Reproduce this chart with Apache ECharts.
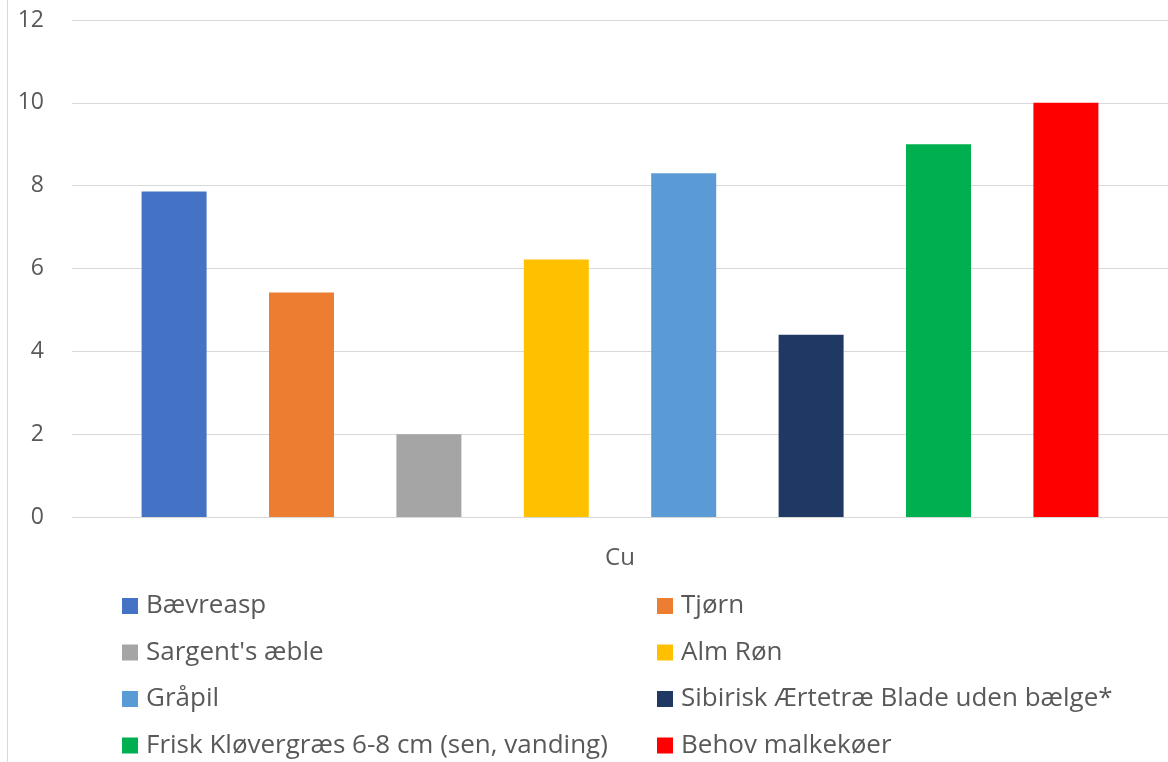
<!DOCTYPE html>
<html>
<head>
<meta charset="utf-8">
<script src="https://cdn.jsdelivr.net/npm/echarts@6/dist/echarts.min.js"></script>
<style>html,body{margin:0;padding:0;background:#fff;}#c{width:1168px;height:762px;}</style>
</head>
<body>
<div id="c"></div>
<script>
const categories = ['Cu'];
const seriesNames = ['Bævreasp', 'Tjørn', "Sargent's æble", 'Alm Røn', 'Gråpil', 'Sibirisk Ærtetræ Blade uden bælge*', 'Frisk Kløvergræs 6-8 cm (sen, vanding)', 'Behov malkekøer'];
const seriesValues = [7.86, 5.42, 2.0, 6.22, 8.3, 4.4, 9.0, 10.0];
const seriesColors = ['#4472C4', '#ED7D31', '#A5A5A5', '#FFC000', '#5B9BD5', '#203864', '#00B050', '#FF0000'];
const yTicks = { min: 0, max: 12, interval: 2 };

const chart = echarts.init(document.getElementById('c'));
const font = 'Open Sans';
const series = seriesNames.map((name, i) => ({
  name: name,
  type: 'bar',
  data: [seriesValues[i]],
  barWidth: 65,
  barGap: '96%',
  itemStyle: { color: seriesColors[i] }
}));
const leftNames = seriesNames.filter((_, i) => i % 2 === 0);
const rightNames = seriesNames.filter((_, i) => i % 2 === 1);
const legendCommon = {
  orient: 'vertical',
  top: 591,
  height: 200,
  padding: 0,
  itemWidth: 16,
  itemHeight: 16,
  itemGap: 16.5,
  icon: 'rect',
  textStyle: { fontFamily: font, fontSize: 26, color: '#595959', lineHeight: 30, padding: [0, 0, 0, 3] }
};
chart.setOption({
  animation: false,
  textStyle: { fontFamily: font },
  grid: { left: 72, right: 0, top: 20, bottom: 245 },
  legend: [
    Object.assign({ left: 122, data: leftNames }, legendCommon),
    Object.assign({ left: 657, data: rightNames }, legendCommon)
  ],
  xAxis: {
    type: 'category',
    data: categories,
    axisLine: { lineStyle: { color: '#d9d9d9' } },
    axisTick: { show: false },
    axisLabel: { fontFamily: font, fontSize: 24, color: '#595959', margin: 29 }
  },
  yAxis: {
    type: 'value',
    min: yTicks.min,
    max: yTicks.max,
    interval: yTicks.interval,
    axisLine: { show: false },
    axisTick: { show: false },
    splitLine: { lineStyle: { color: '#d9d9d9' } },
    axisLabel: { fontFamily: font, fontSize: 23, color: '#595959', margin: 28 }
  },
  graphic: [{
    type: 'line',
    shape: { x1: 7.5, y1: 0, x2: 7.5, y2: 762 },
    style: { stroke: '#d9d9d9', lineWidth: 1 }
  }],
  series: series
});
</script>
</body>
</html>
